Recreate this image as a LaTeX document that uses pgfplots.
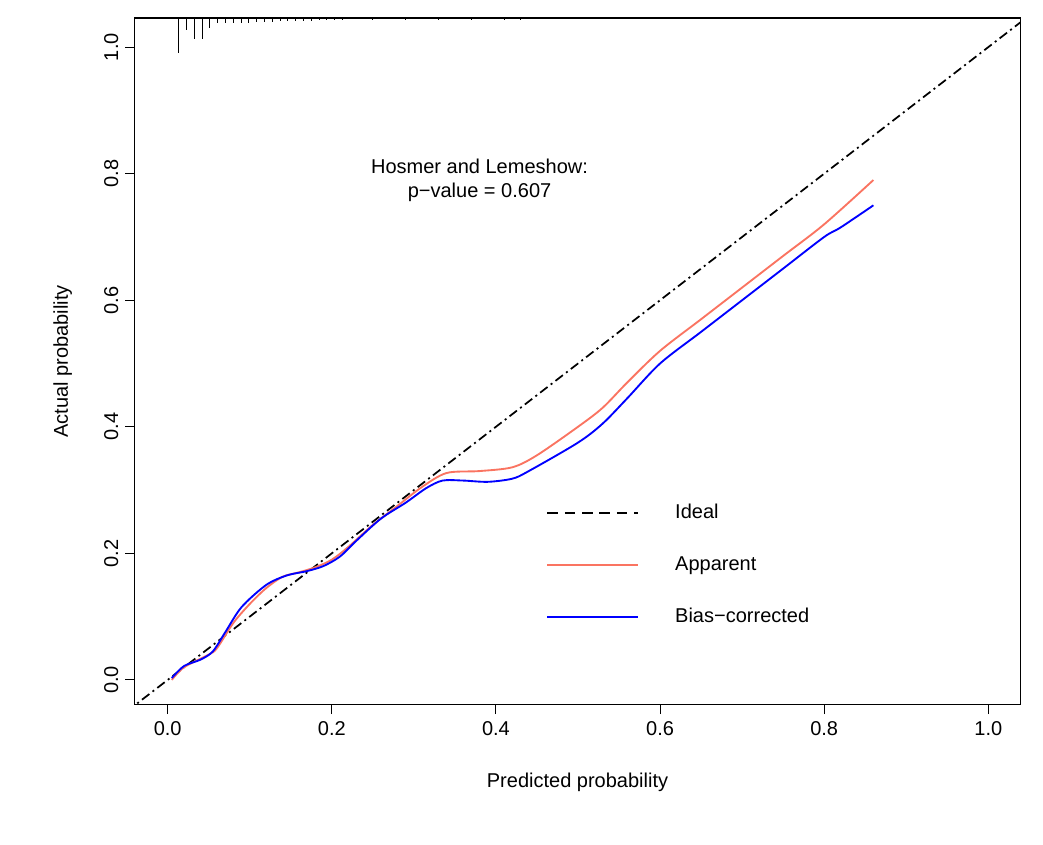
\documentclass[border=0pt]{standalone}
\usepackage{pgfplots}
\pgfplotsset{compat=1.18}
\usepackage{fontspec}
\setmainfont{Liberation Sans}
\definecolor{salmon}{HTML}{FA7461}
\begin{document}
\fontsize{15}{18}\selectfont
\begin{tikzpicture}[x=1pt,y=1pt]
\useasboundingbox (-101pt,-105pt) rectangle (681pt,528.5pt);
\begin{axis}[name=main, at={(0,0)}, anchor=south west,
 scale only axis, width=664pt, height=515pt,
 xmin=-0.0402, xmax=1.039, ymin=-0.0395, ymax=1.046,
 axis line style={line width=0.8pt},
 xtick={0,0.2,...,1.0}, ytick={0,0.2,...,1.0},
 xticklabel style={/pgf/number format/.cd,fixed,fixed zerofill,precision=1},
 yticklabel style={rotate=90,/pgf/number format/.cd,fixed,fixed zerofill,precision=1},
 /pgf/number format/assume math mode=true,
 tick align=outside, tick style={black,line width=0.8pt}, major tick length=7pt,
 xtick pos=bottom, ytick pos=left,
 xlabel={Predicted probability}, ylabel={Actual probability},
 xlabel style={yshift=-18pt}, ylabel style={yshift=14pt},
 clip=true,
 legend style={draw=none, fill=none, at={(0.46,0.3)}, anchor=north west, row sep=22pt, font=\fontsize{15}{18}\selectfont},
 legend cell align=left,
 legend image code/.code={\draw[#1] (0pt,0pt) -- (68pt,0pt);},
]
\addplot[black, line width=1.3pt, dash pattern=on 7pt off 3pt on 1.5pt off 3pt, forget plot] coordinates {(-0.05,-0.05) (1.05,1.05)};
\addlegendimage{black, line width=1.6pt, dash pattern=on 8pt off 5pt}
\addlegendentry{\hspace{25pt}Ideal}
\addplot[salmon, line width=1.4pt, smooth] coordinates {
(0.005,0.0)(0.02,0.02)(0.05,0.04)(0.06,0.05)(0.08,0.09)(0.1,0.12)(0.12,0.145)(0.14,0.163)(0.16,0.17)(0.18,0.178)(0.2,0.19)(0.22,0.21)(0.25,0.245)(0.28,0.275)(0.31,0.305)(0.34,0.327)(0.38,0.33)(0.42,0.336)(0.45,0.355)(0.5,0.4)(0.53,0.43)(0.56,0.47)(0.6,0.52)(0.65,0.57)(0.7,0.62)(0.75,0.67)(0.8,0.72)(0.86,0.79)};
\addlegendentry{\hspace{25pt}Apparent}
\addplot[blue, line width=1.4pt, smooth] coordinates {
(0.005,0.003)(0.02,0.022)(0.04,0.032)(0.055,0.045)(0.07,0.075)(0.09,0.115)(0.12,0.15)(0.145,0.165)(0.17,0.172)(0.19,0.18)(0.21,0.195)(0.23,0.22)(0.26,0.255)(0.29,0.28)(0.315,0.303)(0.335,0.315)(0.36,0.315)(0.39,0.313)(0.42,0.318)(0.44,0.33)(0.5,0.375)(0.53,0.405)(0.56,0.445)(0.6,0.5)(0.65,0.55)(0.7,0.6)(0.75,0.65)(0.8,0.7)(0.82,0.715)(0.86,0.75)};
\addlegendentry{\hspace{25pt}Bias\char"2212 corrected}
\node[align=center, font=\fontsize{15}{18}\selectfont] at (axis cs:0.38,0.79) {Hosmer and Lemeshow:\\p\char"2212 value = 0.607};
\end{axis}
\begin{axis}[at={(0,0)}, anchor=south west,
 scale only axis, width=664pt, height=515pt, hide axis,
 xmin=-0.0402, xmax=1.039, ymin=0, ymax=515, y dir=reverse]
\addplot[ycomb, black, line width=0.8pt, mark=none] coordinates {
(0.0134,26)(0.023,9)(0.0325,16)(0.042,16)(0.0515,7.5)(0.061,4)(0.0705,4)(0.08,4)(0.0895,4)(0.099,4)(0.1085,3)(0.118,3)(0.1275,3)(0.137,2.5)(0.1465,2.5)(0.156,2.5)(0.1655,2)(0.175,2)(0.1845,1.5)(0.194,1.5)(0.2035,1.5)(0.213,1.2)(0.25,1.2)(0.29,1.2)(0.33,1.2)(0.37,1.2)(0.41,1.2)(0.43,1.2)};
\end{axis}
\end{tikzpicture}
\end{document}
